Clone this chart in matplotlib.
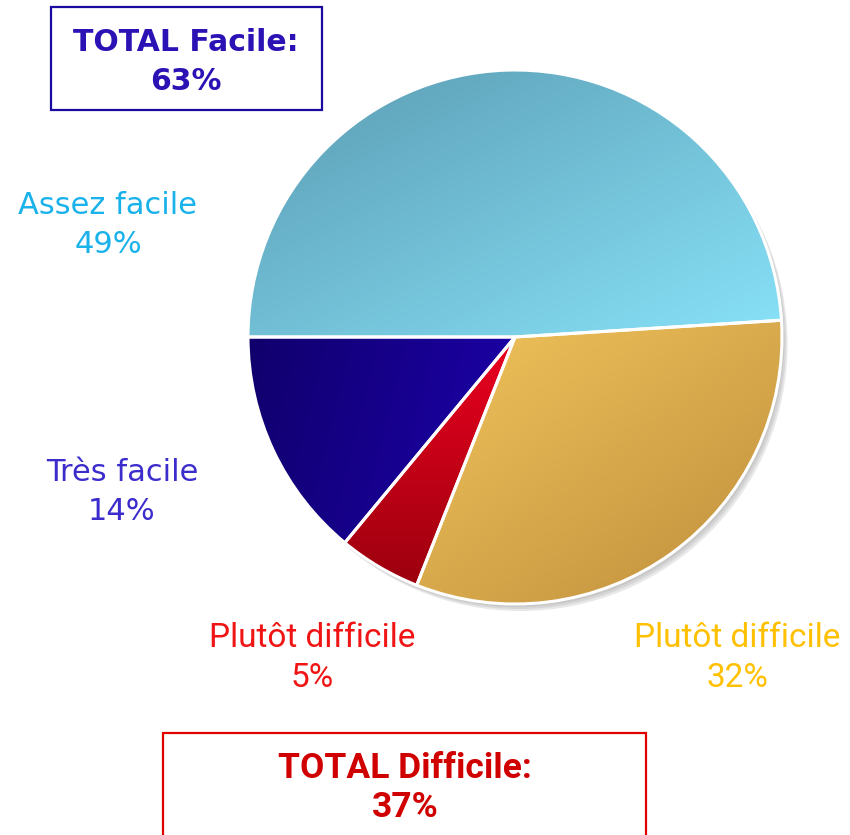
import matplotlib
matplotlib.use("Agg")
import matplotlib.pyplot as plt
import numpy as np
from matplotlib.colors import LinearSegmentedColormap
from matplotlib.patches import Circle, Rectangle

# data, in drawing order (clockwise from the left)
labels = ["Assez facile", "Plutôt difficile", "Plutôt difficile", "Très facile"]
values = [49, 32, 5, 14]
groups = ["facile", "difficile", "difficile", "facile"]

# gradient colours per slice: (start, end, direction)
grad_start = ["#5a9bb2", "#f2c55c", "#ec0020", "#10006c"]
grad_end = ["#88e2f8", "#bf8e3c", "#9c000e", "#1c00ac"]
grad_dir = [(0.5, -1.0), (0.7, -1.0), (0.0, -1.0), (1.0, -0.25)]
label_colors = ["#1ab2ea", "#ffc000", "#f01414", "#3c2ccc"]

W, H = 850, 835
fig = plt.figure(figsize=(W / 100, H / 100), dpi=100)
ax = fig.add_axes([0, 0, 1, 1])

cx, cy, r = 515, H - 337, 267

# soft drop shadow to the lower right
for off, col in [(7, "#e8e8e8"), (5, "#d6d6d6"), (3, "#c8c8c8")]:
    ax.add_patch(Circle((cx + off * 0.8, cy - off), r, color=col, zorder=1, lw=0))

wedges, _ = ax.pie(
    values,
    startangle=180,
    counterclock=False,
    center=(cx, cy),
    radius=r,
    wedgeprops={"edgecolor": "white", "linewidth": 2.2},
    frame=True,
)
ax.set_xlim(0, W)
ax.set_ylim(0, H)
ax.set_aspect("equal")
ax.axis("off")

for i, w in enumerate(wedges):
    ext = w.get_path().get_extents()
    xs = np.linspace(ext.x0, ext.x1, 200)
    ys = np.linspace(ext.y0, ext.y1, 200)
    X, Y = np.meshgrid(xs, ys)
    dx, dy = grad_dir[i]
    p = X * dx + Y * dy
    p = (p - p.min()) / (p.max() - p.min())
    cmap = LinearSegmentedColormap.from_list(f"g{i}", [grad_start[i], grad_end[i]])
    im = ax.imshow(
        p,
        cmap=cmap,
        extent=(ext.x0, ext.x1, ext.y0, ext.y1),
        origin="lower",
        interpolation="bilinear",
        zorder=2,
        aspect="auto",
    )
    im.set_clip_path(w)
    w.set_facecolor("none")
    w.set_zorder(3)

# slice labels
label_pos = [(108, 225), (737, 658), (312, 658), (122, 492)]
narrow = ["Roboto", "DejaVu Sans"]
for i, (lab, val) in enumerate(zip(labels, values)):
    x, y = label_pos[i]
    is_bottom = y > 600
    ax.text(
        x, H - y, f"{lab}\n{val}%",
        ha="center", va="center",
        color=label_colors[i],
        fontsize=24 if is_bottom else 22,
        family=narrow if is_bottom else ["DejaVu Sans"],
        linespacing=1.3 if is_bottom else 1.45,
        zorder=5,
    )

# totals
tot_facile = sum(v for v, g in zip(values, groups) if g == "facile")
tot_difficile = sum(v for v, g in zip(values, groups) if g == "difficile")

ax.add_patch(Rectangle((51, H - 110), 271, 103, fill=False,
                       edgecolor="#1a0aa0", lw=1.6, zorder=5))
ax.text(186, H - 62, f"TOTAL Facile:\n{tot_facile}%", ha="center", va="center",
        color="#2a12b4", fontsize=21.5, fontweight="bold", linespacing=1.45,
        family=["DejaVu Sans"], zorder=6)

ax.add_patch(Rectangle((163, H - 850), 483, 117, fill=False,
                       edgecolor="#e00000", lw=1.6, zorder=5, clip_on=False))
ax.text(405, H - 788, f"TOTAL Difficile:\n{tot_difficile}%", ha="center", va="center",
        color="#d00000", fontsize=25.5, fontweight="bold", linespacing=1.25,
        family=narrow, zorder=6)

fig.savefig("out.png", dpi=100)
